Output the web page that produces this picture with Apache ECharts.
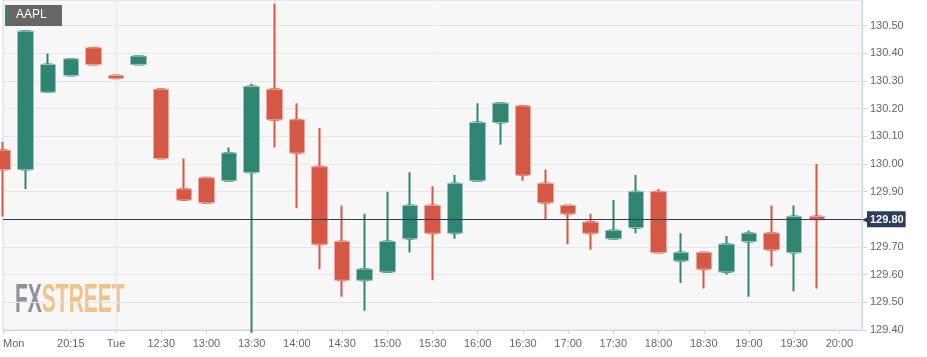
<!DOCTYPE html>
<html><head><meta charset="utf-8">
<script src="https://cdn.jsdelivr.net/npm/echarts@6/dist/echarts.min.js"></script>
<style>html,body{margin:0;padding:0;background:#fff}#c{width:927px;height:357px}</style>
</head><body><div id="c"></div>
<script>
const categories = ['Mon 19:30','19:45','20:00','20:15','20:30','Tue 12:00','12:15','12:30','12:45','13:00','13:15','13:30','13:45','14:00','14:15','14:30','14:45','15:00','15:15','15:30','15:45','16:00','16:15','16:30','16:45','17:00','17:15','17:30','17:45','18:00','18:15','18:30','18:45','19:00','19:15','19:30','19:45','20:00','20:15'];
const tickLabels = ['Mon','','','20:15','','Tue','','12:30','','13:00','','13:30','','14:00','','14:30','','15:00','','15:30','','16:00','','16:30','','17:00','','17:30','','18:00','','18:30','','19:00','','19:30','','20:00',''];
const opens  = [130.05,129.98,130.26,130.32,130.42,130.32,130.36,130.27,129.91,129.95,129.94,129.97,130.27,130.16,129.99,129.72,129.58,129.61,129.73,129.85,129.75,129.94,130.15,130.21,129.93,129.85,129.79,129.73,129.77,129.90,129.65,129.68,129.61,129.72,129.75,129.68,129.81];
const closes = [129.98,130.48,130.36,130.38,130.36,130.31,130.39,130.02,129.87,129.86,130.04,130.28,130.16,130.04,129.71,129.58,129.62,129.72,129.85,129.75,129.93,130.15,130.22,129.96,129.86,129.82,129.75,129.76,129.90,129.68,129.68,129.62,129.71,129.75,129.69,129.81,129.80];
const lows   = [129.81,129.91,130.26,130.32,130.36,130.31,130.36,130.02,129.87,129.86,129.94,129.39,130.06,129.84,129.62,129.52,129.47,129.61,129.68,129.58,129.73,129.94,130.07,129.94,129.80,129.71,129.69,129.73,129.75,129.68,129.57,129.55,129.60,129.52,129.63,129.54,129.55];
const highs  = [130.08,130.48,130.40,130.38,130.42,130.32,130.39,130.27,130.02,129.95,130.06,130.29,130.58,130.22,130.13,129.85,129.82,129.90,129.97,129.92,129.96,130.22,130.22,130.21,129.98,129.85,129.82,129.87,129.96,129.91,129.75,129.68,129.74,129.76,129.85,129.85,130.00];
const yTicks = [129.40,129.50,129.60,129.70,129.80,129.90,130.00,130.10,130.20,130.30,130.40,130.50];
const lastPrice = 129.80;
const symbol = 'AAPL';

const UP = '#2f8572', DOWN = '#d55746';
const full = categories.map((c, i) => i < opens.length ? [opens[i], closes[i], lows[i], highs[i]] : '-');
const bodies = categories.map((c, i) => i < opens.length ? [opens[i], closes[i], Math.min(opens[i], closes[i]), Math.max(opens[i], closes[i])] : '-');
const showTick = (i) => tickLabels[i] !== '';

const chart = echarts.init(document.getElementById('c'), null, {renderer: 'canvas'});
chart.setOption({
  animation: false,
  backgroundColor: '#ffffff',
  grid: {left: 0, top: 0, right: 65, bottom: 27, show: true, backgroundColor: '#f7f7f7', borderColor: '#ccd6eb', borderWidth: 1, containLabel: false},
  xAxis: {
    type: 'category', data: categories, boundaryGap: false,
    axisLine: {lineStyle: {color: '#ccd6eb'}},
    axisTick: {show: true, interval: showTick, length: 4, lineStyle: {color: '#ccd6eb'}},
    axisLabel: {interval: showTick, formatter: (v, idx) => tickLabels[idx] || '', color: '#666', fontSize: 11, fontFamily: 'Liberation Sans, Arial, sans-serif', margin: 8, alignMinLabel: 'left', hideOverlap: false},
    splitLine: {show: true, interval: (i) => i === 5, lineStyle: {color: '#e6e6e6'}}
  },
  yAxis: {
    type: 'value', position: 'right', min: 129.4, max: 130.593, interval: 0.1, scale: true,
    axisLine: {show: true, lineStyle: {color: '#ccd6eb'}},
    axisTick: {show: true, length: 5, lineStyle: {color: '#ccd6eb'}, customValues: yTicks},
    axisLabel: {customValues: yTicks, formatter: (v) => v.toFixed(2), color: '#666', fontSize: 11, fontFamily: 'Liberation Sans, Arial, sans-serif', margin: 8},
    splitLine: {show: true, lineStyle: {color: '#e6e6e6'}}
  },
  series: [
    {
      type: 'candlestick', data: full, barWidth: 8, silent: true,
      itemStyle: {color: UP, color0: DOWN, borderColor: UP, borderColor0: DOWN, borderWidth: 2}
    },
    {
      type: 'candlestick', data: bodies, barWidth: 16, silent: true,
      itemStyle: {color: UP, color0: DOWN, borderColor: '#97c3b8', borderColor0: '#eba79d', borderWidth: 1},
      markLine: {
        silent: true, symbol: 'none', animation: false,
        lineStyle: {color: '#2b3e5e', width: 1, type: 'solid'},
        data: [{yAxis: lastPrice}],
        label: {
          show: true, position: 'end', distance: 0,
          formatter: () => '{a|◀}{b|' + lastPrice.toFixed(2) + '}',
          rich: {
            a: {color: '#2b3e5e', fontSize: 8, padding: [0, -1, 0, 0]},
            b: {color: '#fff', fontWeight: 'bold', fontSize: 11, fontFamily: 'Liberation Sans, Arial, sans-serif', backgroundColor: '#2b3e5e', padding: [3, 2, 2, 3]}
          }
        }
      }
    }
  ],
  graphic: [
    {type: 'rect', left: 5, top: 5, shape: {width: 57, height: 21}, style: {fill: '#666666'}, z: 10},
    {type: 'rect', left: 5, top: 5, shape: {width: 2, height: 21}, style: {fill: UP}, z: 11},
    {type: 'text', left: 16, top: 9, style: {text: symbol, fill: '#fff', font: '12px Liberation Sans, Arial, sans-serif'}, z: 11},
    {type: 'text', x: 15, y: 281, scaleX: 0.525, z: 0,
      style: {text: '{f|FX}{s|STREET}', rich: {
        f: {fill: '#8f9197', font: 'bold 40px Liberation Sans, Arial, sans-serif'},
        s: {fill: '#f2c388', font: 'bold 40px Liberation Sans, Arial, sans-serif'}
      }}}
  ]
});
</script></body></html>
